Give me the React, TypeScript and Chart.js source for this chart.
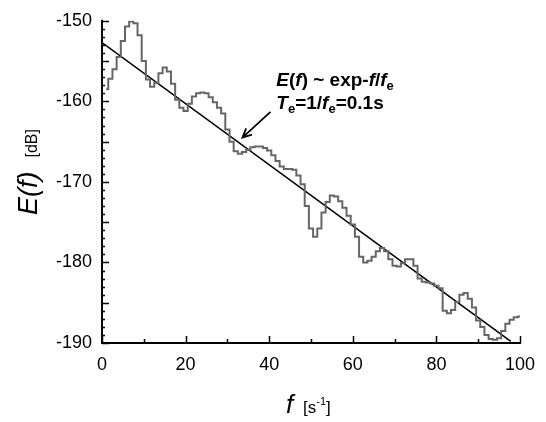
import React, { useEffect, useRef } from 'react';
import { Chart, registerables } from 'chart.js';

Chart.register(...registerables);

// Frequency bins f [s^-1]
const freq = [
  1, 2, 3, 4, 5, 6, 7, 8, 9, 10,
  11, 12, 13, 14, 15, 16, 17, 18, 19, 20,
  21, 22, 23, 24, 25, 26, 27, 28, 29, 30,
  31, 32, 33, 34, 35, 36, 37, 38, 39, 40,
  41, 42, 43, 44, 45, 46, 47, 48, 49, 50,
  51, 52, 53, 54, 55, 56, 57, 58, 59, 60,
  61, 62, 63, 64, 65, 66, 67, 68, 69, 70,
  71, 72, 73, 74, 75, 76, 77, 78, 79, 80,
  81, 82, 83, 84, 85, 86, 87, 88, 89, 90,
  91, 92, 93, 94, 95, 96, 97, 98, 99, 100,
];

// Spectrum E(f) [dB]
const energy = [
  -158.5, -157.2, -156.0, -154.5, -152.5, -150.7, -150.1, -150.3, -151.8, -155.0,
  -157.3, -158.2, -157.7, -156.5, -155.8, -156.3, -157.8, -159.8, -160.8, -161.2,
  -160.3, -159.4, -159.0, -158.9, -159.0, -159.5, -160.1, -160.8, -161.5, -163.5,
  -165.0, -166.2, -166.5, -166.3, -166.0, -165.7, -165.6, -165.6, -165.8, -166.1,
  -166.7, -167.4, -168.1, -168.4, -168.4, -168.5, -169.2, -170.3, -173.0, -175.8,
  -176.8, -175.8, -173.8, -172.5, -171.7, -171.8, -172.4, -173.2, -174.2, -175.3,
  -176.8, -179.3, -180.0, -179.8, -179.3, -178.6, -178.2, -178.6, -179.6, -180.4,
  -180.5, -180.1, -179.6, -179.6, -180.4, -182.0, -182.4, -182.5, -182.6, -182.9,
  -183.2, -186.0, -186.3, -185.9, -184.9, -184.0, -183.8, -184.5, -185.6, -187.2,
  -188.0, -189.0, -189.5, -189.6, -189.4, -188.5, -187.6, -187.1, -186.8, -186.7,
];

// Exponential fit line (straight in dB)
const fitFreq = [0, 97.8];
const fitEnergy = [-152.7, -189.8];

// Axis ranges / ticks
const xRange = [0, 100];
const yRange = [-190, -150];
const xLabelStep = 20;
const yLabelStep = 10;

// Annotation anchor (data coords)
const arrowTail = { x: 40.3, y: -161.3 };
const arrowTip = { x: 33.6, y: -164.5 };
const noteAnchor = { x: 41.7, y: -158.1 };

const FONT = '"Liberation Sans", Arial, Helvetica, sans-serif';

type Part = { t: string; font: string; dy?: number };

function drawParts(ctx: CanvasRenderingContext2D, parts: Part[], x: number, y: number) {
  let cx = x;
  for (const p of parts) {
    ctx.font = p.font;
    ctx.fillText(p.t, cx, y + (p.dy || 0));
    cx += ctx.measureText(p.t).width;
  }
  return cx;
}

const decor = {
  id: 'decor',
  afterDraw(chart: any) {
    const { ctx, chartArea: a, scales } = chart;
    const xs = scales.x;
    const ys = scales.y;
    ctx.save();
    ctx.strokeStyle = '#000';
    ctx.fillStyle = '#000';
    ctx.lineCap = 'butt';

    // ticks (inward)
    ctx.lineWidth = 1.5;
    ctx.beginPath();
    for (let v = xRange[0]; v <= xRange[1]; v += 10) {
      const px = Math.round(xs.getPixelForValue(v)) + 0.5;
      const len = v % 20 === 0 ? 7 : 4;
      ctx.moveTo(px, a.bottom);
      ctx.lineTo(px, a.bottom - len);
    }
    for (let v = yRange[0]; v <= yRange[1]; v += 1) {
      const py = Math.round(ys.getPixelForValue(v)) + 0.5;
      const len = v % 5 === 0 ? 7 : 3;
      ctx.moveTo(a.left, py);
      ctx.lineTo(a.left + len, py);
    }
    ctx.stroke();

    // axis lines
    ctx.lineWidth = 2;
    ctx.beginPath();
    ctx.moveTo(a.left, a.top - 1);
    ctx.lineTo(a.left, a.bottom);
    ctx.lineTo(a.right + 1, a.bottom);
    ctx.stroke();

    // Y title
    ctx.save();
    ctx.translate(37, 215);
    ctx.rotate(-Math.PI / 2);
    ctx.textBaseline = 'alphabetic';
    const ex = drawParts(ctx, [{ t: 'E(f)', font: `italic 27px ${FONT}` }], 0, 0);
    drawParts(ctx, [{ t: '[dB]', font: `16px ${FONT}` }], ex + 14, 0);
    ctx.restore();

    // X title
    ctx.textBaseline = 'alphabetic';
    drawParts(ctx, [{ t: 'f', font: `italic 26px ${FONT}` }], 286, 413);
    drawParts(
      ctx,
      [
        { t: '[s', font: `17px ${FONT}` },
        { t: '-1', font: `11px ${FONT}`, dy: -8 },
        { t: ']', font: `17px ${FONT}` },
      ],
      303,
      413
    );

    // annotation text
    const nx = xs.getPixelForValue(noteAnchor.x);
    const ny = ys.getPixelForValue(noteAnchor.y);
    const B = `bold 19px ${FONT}`;
    const BI = `italic bold 19px ${FONT}`;
    const S = `bold 13px ${FONT}`;
    drawParts(
      ctx,
      [
        { t: 'E', font: BI },
        { t: '(', font: B },
        { t: 'f', font: BI },
        { t: ') ~ exp-', font: B },
        { t: 'f', font: BI },
        { t: '/', font: B },
        { t: 'f', font: BI },
        { t: 'e', font: S, dy: 4 },
      ],
      nx,
      ny
    );
    drawParts(
      ctx,
      [
        { t: 'T', font: BI },
        { t: 'e', font: S, dy: 4 },
        { t: '=1/', font: B },
        { t: 'f', font: BI },
        { t: 'e', font: S, dy: 4 },
        { t: '=0.1s', font: B },
      ],
      nx,
      ny + 23
    );

    // arrow
    const tx = xs.getPixelForValue(arrowTail.x);
    const ty = ys.getPixelForValue(arrowTail.y);
    const hx = xs.getPixelForValue(arrowTip.x);
    const hy = ys.getPixelForValue(arrowTip.y);
    const ang = Math.atan2(hy - ty, hx - tx);
    ctx.lineWidth = 1.8;
    ctx.beginPath();
    ctx.moveTo(tx, ty);
    ctx.lineTo(hx, hy);
    const hl = 10;
    ctx.moveTo(hx - hl * Math.cos(ang - 0.45), hy - hl * Math.sin(ang - 0.45));
    ctx.lineTo(hx, hy);
    ctx.lineTo(hx - hl * Math.cos(ang + 0.45), hy - hl * Math.sin(ang + 0.45));
    ctx.stroke();

    ctx.restore();
  },
};

export default function App() {
  const ref = useRef<HTMLCanvasElement | null>(null);
  useEffect(() => {
    if (!ref.current) return;
    const chart = new Chart(ref.current, {
      type: 'line',
      data: {
        datasets: [
          {
            data: freq.map((f, i) => ({ x: f, y: energy[i] })),
            borderColor: '#666666',
            borderWidth: 2,
            stepped: 'middle',
            pointRadius: 0,
            fill: false,
          },
          {
            data: fitFreq.map((f, i) => ({ x: f, y: fitEnergy[i] })),
            borderColor: '#000',
            borderWidth: 1.6,
            pointRadius: 0,
            fill: false,
          },
        ],
      },
      options: {
        animation: false,
        responsive: false,
        events: [],
        layout: { padding: { top: 18, right: 25, left: 0, bottom: 0 } },
        plugins: { legend: { display: false }, tooltip: { enabled: false } },
        scales: {
          x: {
            type: 'linear',
            min: xRange[0],
            max: xRange[1],
            grid: { display: false, drawTicks: false },
            border: { display: false },
            ticks: {
              stepSize: xLabelStep,
              color: '#000',
              font: { size: 18, family: FONT },
              padding: 11,
              maxRotation: 0,
            },
            afterFit(s: any) {
              s.height = 79;
            },
          },
          y: {
            type: 'linear',
            min: yRange[0],
            max: yRange[1],
            grid: { display: false, drawTicks: false },
            border: { display: false },
            ticks: {
              stepSize: yLabelStep,
              color: '#000',
              font: { size: 18, family: FONT },
              padding: 10,
            },
            afterFit(s: any) {
              s.width = 102;
            },
          },
        },
      },
      plugins: [decor],
    });
    return () => chart.destroy();
  }, []);
  return (
    <div style={{ position: 'absolute', left: 0, top: 0, width: 546, height: 422, background: '#fff' }}>
      <canvas ref={ref} width={546} height={422} style={{ width: 546, height: 422, display: 'block' }} />
    </div>
  );
}
